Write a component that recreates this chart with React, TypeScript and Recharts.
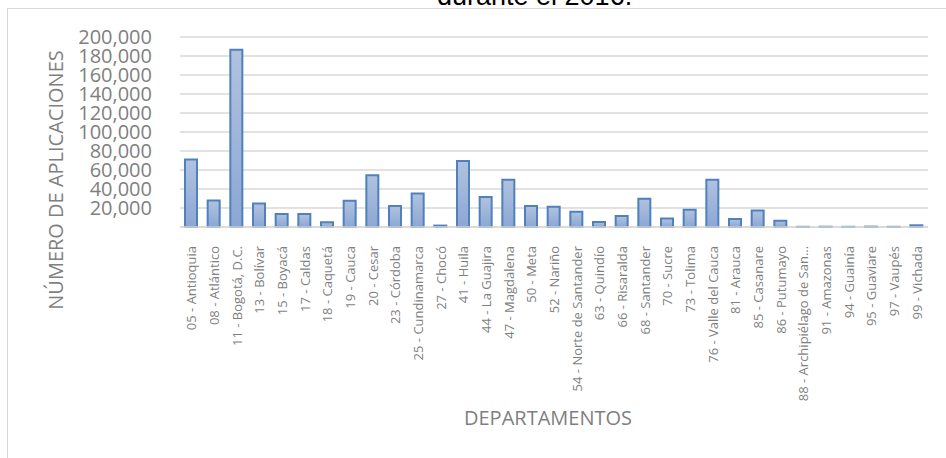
import { BarChart, Bar, XAxis, YAxis, CartesianGrid, Label } from 'recharts';

const departamentos = [
  '05 - Antioquia', '08 - Atlántico', '11 - Bogotá, D.C.', '13 - Bolívar', '15 - Boyacá',
  '17 - Caldas', '18 - Caquetá', '19 - Cauca', '20 - Cesar', '23 - Córdoba',
  '25 - Cundinamarca', '27 - Chocó', '41 - Huila', '44 - La Guajira', '47 - Magdalena',
  '50 - Meta', '52 - Nariño', '54 - Norte de Santander', '63 - Quindío', '66 - Risaralda',
  '68 - Santander', '70 - Sucre', '73 - Tolima', '76 - Valle del Cauca', '81 - Arauca',
  '85 - Casanare', '86 - Putumayo', '88 - Archipiélago de San…', '91 - Amazonas', '94 - Guainía',
  '95 - Guaviare', '97 - Vaupés', '99 - Vichada',
];

const aplicaciones = [
  71000, 28000, 186500, 24800, 13600,
  13600, 4900, 27700, 54600, 22000,
  35300, 1500, 69600, 31500, 49800,
  22000, 21300, 16000, 5200, 11500,
  29700, 9000, 18100, 49800, 8300,
  17400, 6600, 200, 300, 200,
  400, 200, 1800,
];

const yTicks = [20000, 40000, 60000, 80000, 100000, 120000, 140000, 160000, 180000, 200000];

const data = departamentos.map((name, i) => ({ name, value: aplicaciones[i] }));

const gray = '#7f7f7f';
const font = '"Open Sans", sans-serif';

const YTitle = () => (
  <text
    x={55}
    y={180}
    transform="rotate(-90 55 180)"
    textAnchor="middle"
    dominantBaseline="central"
    fill={gray}
    fontSize={20}
    fontFamily={font}
  >
    NÚMERO DE APLICACIONES
  </text>
);

const XTitle = () => (
  <text x={548} y={425} textAnchor="middle" fill={gray} fontSize={20} fontFamily={font}>
    DEPARTAMENTOS
  </text>
);

// title sits mostly above the visible area, only its lower part shows
const Title = () => (
  <text x={437} y={5} fill="#000" fontSize={27} fontFamily='"Liberation Sans", Arial, sans-serif'>
    durante el 2016.
  </text>
);

const CategoryTick = (props: any) => {
  const { x, y, payload } = props;
  return (
    <text
      x={x}
      y={y + 11}
      transform={`rotate(-90 ${x} ${y + 11})`}
      textAnchor="end"
      dominantBaseline="central"
      fill={gray}
      fontSize={13}
      fontFamily={font}
    >
      {payload.value}
    </text>
  );
};

export default function App() {
  return (
    <div style={{ position: 'absolute', left: 0, top: 0, width: 946, height: 458, overflow: 'hidden', background: '#fff' }}>
      <div
        style={{
          position: 'absolute', left: 7, top: 8, width: 1200, height: 1000,
          border: '1px solid #d9d9d9', boxSizing: 'border-box',
        }}
      />
      <BarChart
        width={946}
        height={458}
        data={data}
        margin={{ top: 37, right: 18, bottom: 31, left: 8 }}
        barCategoryGap={0}
        style={{ position: 'absolute', left: 0, top: 0 }}
      >
        <defs>
          <linearGradient id="barFill" x1="0" y1="0" x2="0" y2="1">
            <stop offset="0%" stopColor="#b1c2df" />
            <stop offset="100%" stopColor="#8ca7d4" />
          </linearGradient>
        </defs>
        <CartesianGrid vertical={false} stroke="#d9d9d9" strokeWidth={1.5} />
        <XAxis
          dataKey="name"
          interval={0}
          height={200}
          tickLine={false}
          axisLine={{ stroke: '#d9d9d9', strokeWidth: 1.5 }}
          tick={<CategoryTick />}
        >
          <Label content={<XTitle />} />
          <Label content={<Title />} />
        </XAxis>
        <YAxis
          width={172}
          domain={[0, 200000]}
          ticks={yTicks}
          interval={0}
          axisLine={false}
          tickLine={false}
          tickFormatter={(v: number) => v.toLocaleString('en-US')}
          tick={{ fill: gray, fontSize: 20, fontFamily: font }}
          tickMargin={22}
          label={<YTitle />}
        />
        <Bar
          dataKey="value"
          barSize={12}
          fill="url(#barFill)"
          stroke="#4f81bd"
          strokeWidth={2}
          isAnimationActive={false}
        />
      </BarChart>
    </div>
  );
}
